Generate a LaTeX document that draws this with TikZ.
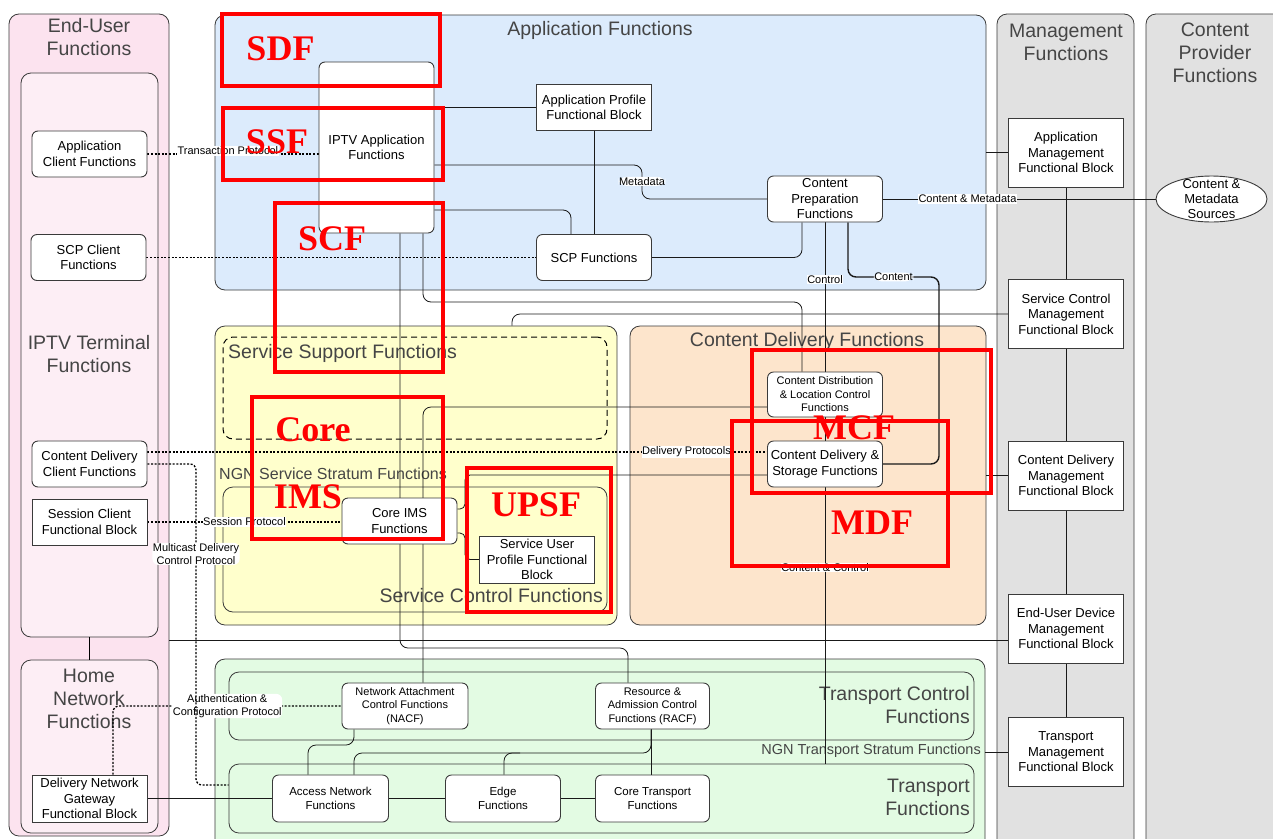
\documentclass[tikz,border=0pt]{standalone}
\usepackage{fontspec}
\setmainfont{Liberation Sans}
\newfontfamily\redfont{Liberation Serif}
\usetikzlibrary{shapes.geometric}

\definecolor{euPink}{HTML}{FCE3EF}
\definecolor{euPinkLt}{HTML}{FDEEF5}
\definecolor{appBlue}{HTML}{DCEBFC}
\definecolor{mgmtGray}{HTML}{E1E1E1}
\definecolor{svcYellow}{HTML}{FFFFCC}
\definecolor{cdOrange}{HTML}{FDE5CC}
\definecolor{trGreen}{HTML}{E3FBE3}
\definecolor{titleGray}{HTML}{454545}
\definecolor{edgeGray}{HTML}{3A3A3A}

\pgfdeclarelayer{regions}
\pgfdeclarelayer{wires}
\pgfsetlayers{regions,wires,main}

\tikzset{
  region/.style={draw=edgeGray, line width=0.8pt, rounded corners=10pt, inner sep=0pt},
  regtitle/.style={text=titleGray, font=\fontsize{19.5}{23}\selectfont, align=center, inner sep=0pt},
  fbox/.style={draw=edgeGray, line width=0.9pt, fill=white, rounded corners=6pt,
    minimum width=115pt, minimum height=46pt, align=center, inner sep=1pt,
    font=\fontsize{13}{15.5}\selectfont},
  fblock/.style={fbox, sharp corners},
  fsmall/.style={fbox, font=\fontsize{11}{13.5}\selectfont},
  wire/.style={draw=black!90, line width=0.8pt},
  proto/.style={draw=black, line width=1.3pt, dash pattern=on 2pt off 1.6pt},
  lbl/.style={fill=white, inner sep=0.5pt, font=\fontsize{11}{13}\selectfont, align=center, text=black},
  redframe/.style={draw=red, line width=4.5pt},
  redtag/.style={text=red, font=\redfont\bfseries\fontsize{36}{36}\selectfont, inner sep=0pt}
}

\begin{document}
\begin{tikzpicture}[x=1pt, y=-1pt]
\useasboundingbox (0,0) rectangle (1273,838);

\begin{pgfonlayer}{regions}
\node[region, fill=euPink, minimum width=160pt, minimum height=822pt] (euf) at (89,425) {};
\node[region, fill=euPinkLt, minimum width=137pt, minimum height=564pt] (iptvt) at (89.5,355) {};
\node[region, fill=euPinkLt, minimum width=137pt, minimum height=173pt] (homenet) at (89.5,746.5) {};
\node[region, fill=appBlue, minimum width=771pt, minimum height=275pt] (appf) at (600.5,152.5) {};
\node[region, fill=mgmtGray, minimum width=137pt, minimum height=856pt] (mgmtf) at (1065.5,442) {};
\node[region, fill=mgmtGray, minimum width=154pt, minimum height=856pt] (cpf) at (1223,442) {};
\node[region, fill=svcYellow, minimum width=402pt, minimum height=299pt] (svcf) at (416,475.5) {};
\node[region, draw=black, line width=1pt, dash pattern=on 6pt off 4pt, minimum width=384pt, minimum height=102pt] (ssupf) at (415,388) {};
\node[region, minimum width=384pt, minimum height=125pt] (scfr) at (415,549.5) {};
\node[region, fill=cdOrange, minimum width=356pt, minimum height=299pt] (cdf) at (808,475.5) {};
\node[region, fill=trGreen, minimum width=770pt, minimum height=211pt] (trf) at (600,764.5) {};
\node[region, minimum width=745pt, minimum height=68pt] (tcf) at (601.5,706) {};
\node[region, minimum width=745pt, minimum height=69pt] (tfr) at (601.5,798.5) {};
\draw (iptvt) -- (homenet);

\node[regtitle] (euft) at (89,37) {End-User\\Functions};
\node[regtitle] (iptvtt) at (89,354) {IPTV Terminal\\Functions};
\node[regtitle] (homenett) at (89,699) {Home\\Network\\Functions};
\node[regtitle] (appft) at (600,30) {Application Functions};
\node[regtitle] (mgmtft) at (1066,42) {Management\\Functions};
\node[regtitle] (cpft) at (1215,53) {Content\\Provider\\Functions};
\node[regtitle, anchor=west] (ssupft) at (228,353) {Service Support Functions};
\node[regtitle, anchor=west, font=\fontsize{16}{19}\selectfont] (ngnst) at (219,474) {NGN Service Stratum Functions};
\node[regtitle, anchor=east] (scft) at (603,596) {Service Control Functions};
\node[regtitle] (cdft) at (807,341) {Content Delivery Functions};
\node[regtitle, anchor=east, align=right] (tcft) at (970,705) {Transport Control\\Functions};
\node[regtitle, anchor=east, font=\fontsize{14.5}{17}\selectfont] (ngntt) at (981,751) {NGN Transport Stratum Functions};
\node[regtitle, anchor=east, align=right] (tfrt) at (970,797) {Transport\\Functions};
\end{pgfonlayer}

\node[fbox] (appclient) at (89.5,154) {Application\\Client Functions};
\node[fbox] (scpclient) at (88.5,257.5) {SCP Client\\Functions};
\node[fbox] (cdclient) at (89.5,464) {Content Delivery\\Client Functions};
\node[fblock] (sessclient) at (89.5,522) {Session Client\\Functional Block};
\node[fblock, minimum height=47pt] (dngw) at (89.5,798.5) {Delivery Network\\Gateway\\Functional Block};

\node[fbox, minimum height=171pt] (iptvapp) at (376.5,147.5) {IPTV Application\\Functions};
\node[fblock] (appprofile) at (594,107.5) {Application Profile\\Functional Block};
\node[fbox] (scpfun) at (594,257.5) {SCP Functions};
\node[fbox] (cprep) at (825,199) {Content\\Preparation\\Functions};
\node[ellipse, draw=edgeGray, line width=0.9pt, fill=white, minimum width=111pt, minimum height=46pt, inner sep=0pt] (cmsrc) at (1211.5,199) {};
\node[align=center, inner sep=0pt, font=\fontsize{13}{15}\selectfont] (cmsrctext) at (cmsrc) {Content \&\\Metadata\\Sources};

\node[fblock, minimum height=69pt] (appmgmt) at (1066,152.5) {Application\\Management\\Functional Block};
\node[fblock, minimum height=69pt] (scmgmt) at (1066,314) {Service Control\\Management\\Functional Block};
\node[fblock, minimum height=69pt] (cdmgmt) at (1066,475.5) {Content Delivery\\Management\\Functional Block};
\node[fblock, minimum height=69pt] (eudmgmt) at (1066,628.5) {End-User Device\\Management\\Functional Block};
\node[fblock, minimum height=69pt] (trmgmt) at (1066,752) {Transport\\Management\\Functional Block};

\node[fbox] (coreims) at (399.5,521) {Core IMS\\Functions};
\node[fblock, minimum height=47pt] (upsfblk) at (537,559.5) {Service User\\Profile Functional\\Block};
\node[fsmall, minimum height=45pt] (cdist) at (825,394.5) {Content Distribution\\\& Location Control\\Functions};
\node[fbox] (cds) at (825,464) {Content Delivery \&\\Storage Functions};

\node[fsmall, minimum width=126pt] (nacf) at (405,706) {Network Attachment\\Control Functions\\(NACF)};
\node[fsmall, minimum width=114pt] (racf) at (652.5,706) {Resource \&\\Admission Control\\Functions (RACF)};
\node[fsmall, minimum width=116pt, minimum height=47pt, font=\fontsize{11.5}{14}\selectfont] (accnet) at (330.5,798.5) {Access Network\\Functions};
\node[fsmall, minimum height=47pt, font=\fontsize{11.5}{14}\selectfont] (edgef) at (503,798.5) {Edge\\Functions};
\node[fsmall, minimum width=114pt, minimum height=47pt, font=\fontsize{11.5}{14}\selectfont] (coretr) at (652.5,798.5) {Core Transport\\Functions};

\begin{pgfonlayer}{wires}
% protocols between terminal and network
\draw[proto] (appclient.east) -- node[lbl, pos=0.47, yshift=3pt] {Transaction Protocol} (appclient.east -| iptvapp.west);
\draw[proto] (scpclient.east) -- (scpclient.east -| scpfun.west);
\draw[proto] ([yshift=12pt]cdclient.east) -- node[lbl, pos=0.87] {Delivery Protocols} ([yshift=12pt]cdclient.east -| cds.west);
\draw[proto] (sessclient.east) -- node[lbl] {Session Protocol} (sessclient.east -| coreims.west);
\draw[proto, rounded corners=6pt] (113,0 |- dngw.north) |- node[lbl, pos=0.75] {Authentication \&\\Configuration Protocol} (nacf.west);
\draw[proto, rounded corners=6pt] (cdclient.east) -| node[lbl, pos=0.64] {Multicast Delivery\\Control Protocol} (196,785) -- (tfr.west |- 0,785);

% application stratum
\draw[wire] (iptvapp.east |- appprofile) -- (appprofile.west);
\draw[wire] (appprofile) -- (scpfun);
\draw[wire, rounded corners=8pt] (iptvapp.east |- 0,165) -| node[lbl, pos=0.74] {Metadata} (642,199) -- (cprep.west);
\draw[wire, rounded corners=8pt] (iptvapp.east |- 0,210) -| (scpfun.north -| 571,0);
\draw[wire, rounded corners=8pt] (scpfun.east) -| (802,0 |- cprep.south);
\draw[wire] (cprep.south) -- node[lbl, pos=0.38] {Control} (cdist.north);
\draw[wire] (cdist.south) -- (cds.north);
\draw[wire] (cds.south) -- node[lbl, pos=0.29] {Content \& Control} (cds.south |- tfr.north);
\draw[wire, line width=1.4pt, rounded corners=8pt] (848,0 |- cprep.south) |- node[lbl, pos=0.75] {Content} (939,277) |- (cds.east);
\draw[wire] (cprep.east) -- node[lbl, pos=0.31] {Content \& Metadata} (cmsrc.west);

% management
\draw[wire] (appf.east |- appmgmt) -- (appmgmt.west);
\draw[wire, rounded corners=8pt] (512,0 |- svcf.north) |- (scmgmt.west);
\draw[wire] (cdf.east |- cdmgmt) -- (cdmgmt.west);
\draw[wire] (euf.east |- 0,640) -- (eudmgmt.west |- 0,640);
\draw[wire] (trf.east |- trmgmt) -- (trmgmt.west);
\draw[wire] (appmgmt) -- (scmgmt);
\draw[wire] (scmgmt) -- (cdmgmt);
\draw[wire] (cdmgmt) -- (eudmgmt);
\draw[wire] (eudmgmt) -- (trmgmt);

% service stratum
\draw[wire, rounded corners=8pt] (423,0 |- iptvapp.south) |- (802,302) -- (cdist.north -| 802,0);
\draw[wire, rounded corners=8pt] (400,0 |- iptvapp.south) |- (628,648) -- (racf.north -| 628,0);
\draw[wire, rounded corners=8pt] (cdist.west |- 0,407) -| (423,0 |- nacf.north);
\draw[wire, rounded corners=5pt] (coreims.east |- 0,509) -| (465,475) -- (cds.west |- 0,475);
\draw[wire, rounded corners=5pt] (coreims.east |- 0,533) -| (465,559.5) -- (upsfblk.west);

% transport stratum
\draw[wire, rounded corners=8pt] (354,0 |- nacf.south) |- (308,745) -- (308,0 |- accnet.north);
\draw[wire, rounded corners=8pt] (651,0 |- racf.south) |- (354,753) -- (354,0 |- accnet.north);
\draw[wire, rounded corners=8pt] (520,753) -| (504,0 |- edgef.north);
\draw[wire] (651,0 |- racf.south) -- (651,0 |- coretr.north);
\draw[wire, line width=1.3pt] (dngw.east) -- (accnet.west);
\draw[wire, line width=1.3pt] (accnet) -- (edgef);
\draw[wire, line width=1.3pt] (edgef) -- (coretr);
\end{pgfonlayer}

% red marks
\draw[redframe] (222,14) rectangle (440,86);
\draw[redframe] (223,108) rectangle (443,180);
\draw[redframe] (275,203) rectangle (443,372);
\draw[redframe] (252,397) rectangle (443,539);
\draw[redframe] (467,468) rectangle (611,612);
\draw[redframe] (752,350) rectangle (991,493);
\draw[redframe] (732,421) rectangle (948,566);
\node[redtag] (sdftag) at (280.5,48.5) {SDF};
\node[redtag] (ssftag) at (277,141.5) {SSF};
\node[redtag] (scftag) at (332,238.5) {SCF};
\node[redtag] (coretag) at (313,430) {Core};
\node[redtag] (imstag) at (308,496.5) {IMS};
\node[redtag] (upsftag) at (536,504.5) {UPSF};
\node[redtag] (mcftag) at (854,428) {MCF};
\node[redtag] (mdftag) at (872,522.5) {MDF};
\end{tikzpicture}
\end{document}
